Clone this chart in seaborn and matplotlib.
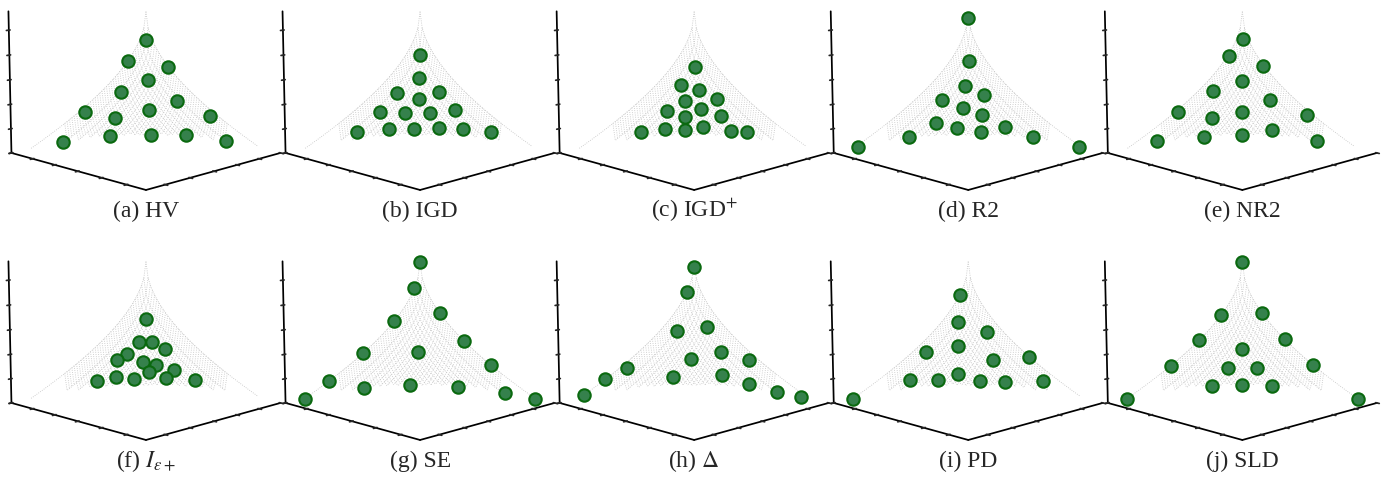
import numpy as np
import seaborn as sns
import matplotlib
matplotlib.use('Agg')
import matplotlib.pyplot as plt

# objective values (f1, f2, f3) of the 15 solutions for each indicator
hv_f1 = [.017, .166, 0, .076, .255, .030, .551, .354, .150, .003, .748, .439, .228, .095, .020]
hv_f2 = [.014, 0, .200, .092, .025, .311, .002, .072, .181, .581, .018, .112, .270, .459, .731]
hv_f3 = [.752, .592, .540, .422, .338, .270, .217, .138, .188, .187, .003, .003, .002, .015, .005]

igd_f1 = [.036, .084, .245, .041, .139, .394, .248, .133, .042, .597, .384, .253, .148, .070, .016]
igd_f2 = [.032, .074, .031, .216, .126, .034, .112, .223, .357, .028, .107, .202, .316, .456, .652]
igd_f3 = [.630, .437, .330, .332, .272, .187, .167, .162, .197, .060, .052, .047, .052, .060, .068]

igdp_f1 = [.052, .164, .086, .185, .047, .311, .131, .230, .081, .529, .378, .276, .183, .093, .053]
igdp_f2 = [.061, .044, .131, .099, .253, .065, .198, .148, .325, .050, .112, .191, .265, .426, .526]
igdp_f3 = [.525, .385, .345, .255, .280, .188, .192, .135, .145, .050, .050, .037, .057, .043, .045]

r2_f1 = [.001, .041, .114, .281, .060, .187, .126, .375, .278, .185, .080, .578, .039, .960, 0]
r2_f2 = [.001, .050, .084, .038, .205, .135, .248, .086, .172, .297, .413, .050, .616, 0, .965]
r2_f3 = [.948, .575, .372, .275, .302, .200, .148, .095, .057, .025, .075, .017, .017, .005, .002]

nr2_f1 = [.011, .121, 0, .087, .284, .036, .581, .348, .172, .002, .766, .456, .250, .114, .027]
nr2_f2 = [.017, .001, .189, .086, .015, .289, 0, .074, .172, .578, .013, .106, .250, .381, .693]
nr2_f3 = [.765, .630, .550, .413, .345, .273, .222, .138, .170, .195, .012, 0, 0, .045, .002]

eps_f1 = [.062, .146, .087, .243, .060, .322, .187, .139, .189, .087, .501, .375, .284, .143, .056]
eps_f2 = [.059, .086, .146, .072, .233, .055, .158, .228, .221, .342, .059, .104, .179, .322, .501]
eps_f3 = [.508, .325, .323, .239, .272, .198, .171, .150, .095, .120, .049, .066, .044, .055, .055]

se_f1 = [0, .052, 0, .240, 0, .511, .150, 0, .806, .562, .297, .109, .015, 1, 0]
se_f2 = [0, 0, .183, 0, .400, 0, .131, .632, 0, .062, .207, .449, .770, 0, 1]
se_f3 = [1, .772, .572, .510, .368, .285, .251, .205, .102, .001, 0, 0, .001, 0, 0]

delta_f1 = [.002, .065, .185, .028, .043, .179, .005, .601, .783, .325, .102, .052, .018, .956, .001]
delta_f2 = [0, 0, .023, .148, .286, .146, .497, .003, 0, .135, .357, .544, .748, 0, .936]
delta_f3 = [.955, .745, .418, .448, .258, .195, .224, .170, .115, .063, .084, .034, .001, .022, .001]

pd_f1 = [.078, .121, .022, .394, .176, .070, 0, .555, .384, .260, .185, .098, .010, 1]
pd_f2 = [0, .026, .194, .011, .081, .294, .548, .035, .111, .166, .289, .426, .672, 0]
pd_f3 = [.720, .492, .410, .270, .295, .192, .260, .068, .047, .082, .033, .035, .080, 0]

sld_f1 = [0, .194, 0, .391, 0, .135, .640, .263, .131, 0, .403, .250, .133, 1, 0]
sld_f2 = [0, 0, .183, 0, .384, .133, 0, .130, .263, .628, .133, .250, .403, 0, 1]
sld_f3 = [1, .560, .572, .375, .380, .268, .200, .126, .125, .208, 0, 0, 0, 0, 0]

titles = ['(a) HV', '(b) IGD', '(c) IGD$^{+}$', '(d) R2', '(e) NR2',
          r'(f) $I_{\varepsilon+}$', '(g) SE', r'(h) $\Delta$', '(i) PD', '(j) SLD']
sets = [(hv_f1, hv_f2, hv_f3), (igd_f1, igd_f2, igd_f3), (igdp_f1, igdp_f2, igdp_f3),
        (r2_f1, r2_f2, r2_f3), (nr2_f1, nr2_f2, nr2_f3), (eps_f1, eps_f2, eps_f3),
        (se_f1, se_f2, se_f3), (delta_f1, delta_f2, delta_f3), (pd_f1, pd_f2, pd_f3),
        (sld_f1, sld_f2, sld_f3)]

sns.set_theme(style='white')
plt.rcParams['font.family'] = ['Liberation Serif', 'DejaVu Serif']
plt.rcParams['mathtext.fontset'] = 'stix'

W, H = 1391, 479
fig = plt.figure(figsize=(W / 100, H / 100), dpi=100)

# convex DTLZ2 front: sqrt(f1) + sqrt(f2) + f3 = 1, drawn as a dotted mesh
g = np.linspace(0, 1, 51)

for k in range(10):
    r, c = divmod(k, 5)
    ax = fig.add_axes([0.0027 + c * 0.19705, 0.5846 - (r * 250 + 2) / H, 0.2, 0.48],
                      projection='3d', computed_zorder=False)
    ax.patch.set_visible(False)
    ax.set_box_aspect((4, 4, 3), zoom=1.3)
    ax.view_init(elev=11, azim=45)
    ax.set_xlim(0, 1.15)
    ax.set_ylim(0, 1.15)
    ax.set_zlim(0, 1.15)
    ticks = np.arange(0, 1.01, 0.2)
    ax.set_xticks(ticks)
    ax.set_yticks(ticks)
    ax.set_zticks(ticks)
    ax.set_xticklabels([])
    ax.set_yticklabels([])
    ax.set_zticklabels([])
    ax.grid(False)
    for a in (ax.xaxis, ax.yaxis, ax.zaxis):
        a.pane.set_visible(False)
        a.line.set_color('black')

    for cc in g:
        xs = g[np.sqrt(g) + np.sqrt(cc) <= 1 + 1e-9]
        if len(xs) < 2:
            continue
        zs = np.clip(1 - np.sqrt(xs) - np.sqrt(cc), 0, None)
        ax.plot(xs, np.full_like(xs, cc), zs, ls=':', c='0.76', lw=0.6)
        ax.plot(np.full_like(xs, cc), xs, zs, ls=':', c='0.76', lw=0.6)

    f1, f2, f3 = sets[k]
    pts = ax.scatter(f1, f2, f3, s=80, c='#35814c', edgecolors='#0a690f',
                     linewidths=1.5, depthshade=False, zorder=5)
    pts.set_clip_on(False)

    fig.text((146 + c * 274.1) / W, 1 - (217 + 250 * r) / H, titles[k],
             ha='center', va='baseline', fontsize=17)

fig.savefig('out.png', dpi=100)
